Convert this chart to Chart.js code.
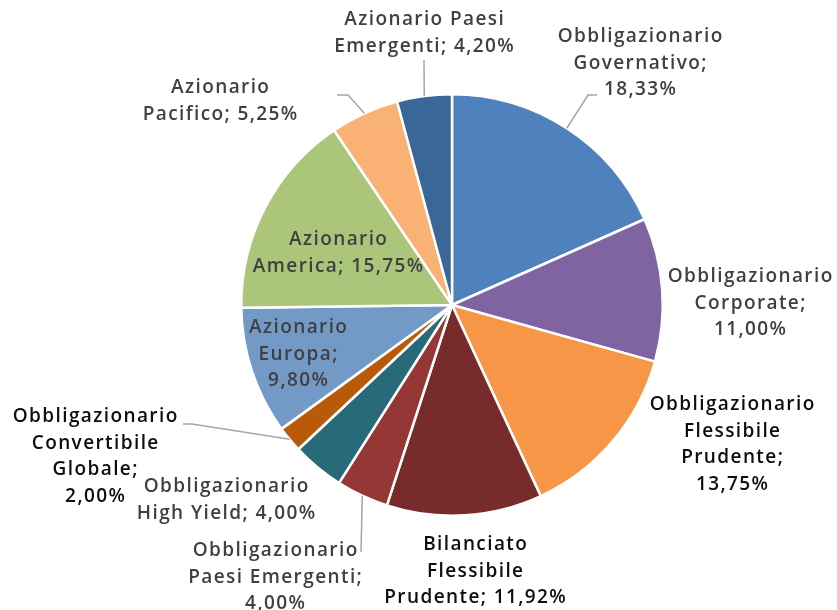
<!DOCTYPE html>
<html>
<head>
<meta charset="utf-8">
<script src="https://cdn.jsdelivr.net/npm/chart.js@4/dist/chart.umd.min.js"></script>
<style>
  html, body { margin: 0; padding: 0; background: #fff; }
  #wrap { width: 837px; height: 610px; }
</style>
</head>
<body>
<div id="wrap"><canvas id="myChart" width="837" height="610"></canvas></div>
<script>
const categories = [
  "Obbligazionario Governativo",
  "Obbligazionario Corporate",
  "Obbligazionario Flessibile Prudente",
  "Bilanciato Flessibile Prudente",
  "Obbligazionario Paesi Emergenti",
  "Obbligazionario High Yield",
  "Obbligazionario Convertibile Globale",
  "Azionario Europa",
  "Azionario America",
  "Azionario Pacifico",
  "Azionario Paesi Emergenti",
];
const weights = [18.33, 11.0, 13.75, 11.92, 4.0, 4.0, 2.0, 9.8, 15.75, 5.25, 4.2];
const colors = [
  "#4f81bd", "#8064a2", "#f79646", "#772b2b", "#953735", "#286a79",
  "#b85a0a", "#7399c6", "#abc57a", "#f9b174", "#3a6698",
];

// how each label is broken into lines ({v} = value), where it sits, leader elbow
const labelLayout = [
  { lines: ["Obbligazionario", "Governativo;", "{v}"], x: 640, y: 37, color: "#404040", leader: [[588, 95], [597, 95]] },
  { lines: ["Obbligazionario", "Corporate;", "{v}"], x: 750, y: 277, color: "#404040" },
  { lines: ["Obbligazionario", "Flessibile", "Prudente;", "{v}"], x: 732, y: 405, color: "#0d0d0d" },
  { lines: ["Bilanciato", "Flessibile", "Prudente; {v}"], x: 475, y: 545, color: "#0d0d0d" },
  { lines: ["Obbligazionario", "Paesi Emergenti;", "{v}"], x: 275, y: 551, color: "#404040", leader: [[361, 552]] },
  { lines: ["Obbligazionario", "High Yield; {v}"], x: 226, y: 487, color: "#404040" },
  { lines: ["Obbligazionario", "Convertibile", "Globale;", "{v}"], x: 95, y: 417, color: "#0d0d0d", leader: [[192, 424], [183, 424]] },
  { lines: ["Azionario", "Europa;", "{v}"], x: 298, y: 328, color: "#404040" },
  { lines: ["Azionario", "America; {v}"], x: 338, y: 240, color: "#404040" },
  { lines: ["Azionario", "Pacifico; {v}"], x: 220, y: 88, color: "#404040", leader: [[348, 95], [337, 95]] },
  { lines: ["Azionario Paesi", "Emergenti; {v}"], x: 424, y: 20, color: "#404040", leader: [[424, 60]] },
];

const fmt = (v) => v.toFixed(2).replace(".", ",") + "%";

const labelPlugin = {
  id: "pieLabels",
  afterDraw(chart) {
    const ctx = chart.ctx;
    const arcs = chart.getDatasetMeta(0).data;
    ctx.save();
    arcs.forEach((arc, i) => {
      const lay = labelLayout[i];
      if (lay.leader) {
        const mid = (arc.startAngle + arc.endAngle) / 2;
        const px = arc.x + Math.cos(mid) * arc.outerRadius;
        const py = arc.y + Math.sin(mid) * arc.outerRadius;
        ctx.beginPath();
        ctx.moveTo(px, py);
        lay.leader.forEach((p) => ctx.lineTo(p[0], p[1]));
        ctx.strokeStyle = "#a6a6a6";
        ctx.lineWidth = 1.5;
        ctx.stroke();
      }
      ctx.font = "600 19px 'Open Sans'";
      ctx.letterSpacing = "1.4px"; // century gothic runs wider
      ctx.fillStyle = lay.color;
      ctx.textAlign = "center";
      ctx.textBaseline = "middle";
      lay.lines.forEach((ln, k) => {
        ctx.fillText(ln.replace("{v}", fmt(weights[i])), lay.x + 0.7, lay.y + k * 26.5);
      });
    });
    ctx.restore();
  },
};

const ctx = document.getElementById("myChart").getContext("2d");
new Chart(ctx, {
  type: "pie",
  data: {
    labels: categories,
    datasets: [
      {
        data: weights,
        backgroundColor: colors,
        borderColor: "#ffffff",
        borderWidth: 2.5,
      },
    ],
  },
  options: {
    responsive: false,
    animation: false,
    layout: { padding: { left: 240, right: 173, top: 93, bottom: 93 } },
    plugins: {
      legend: { display: false },
      tooltip: { enabled: false },
    },
  },
  plugins: [labelPlugin],
});
</script>
</body>
</html>
